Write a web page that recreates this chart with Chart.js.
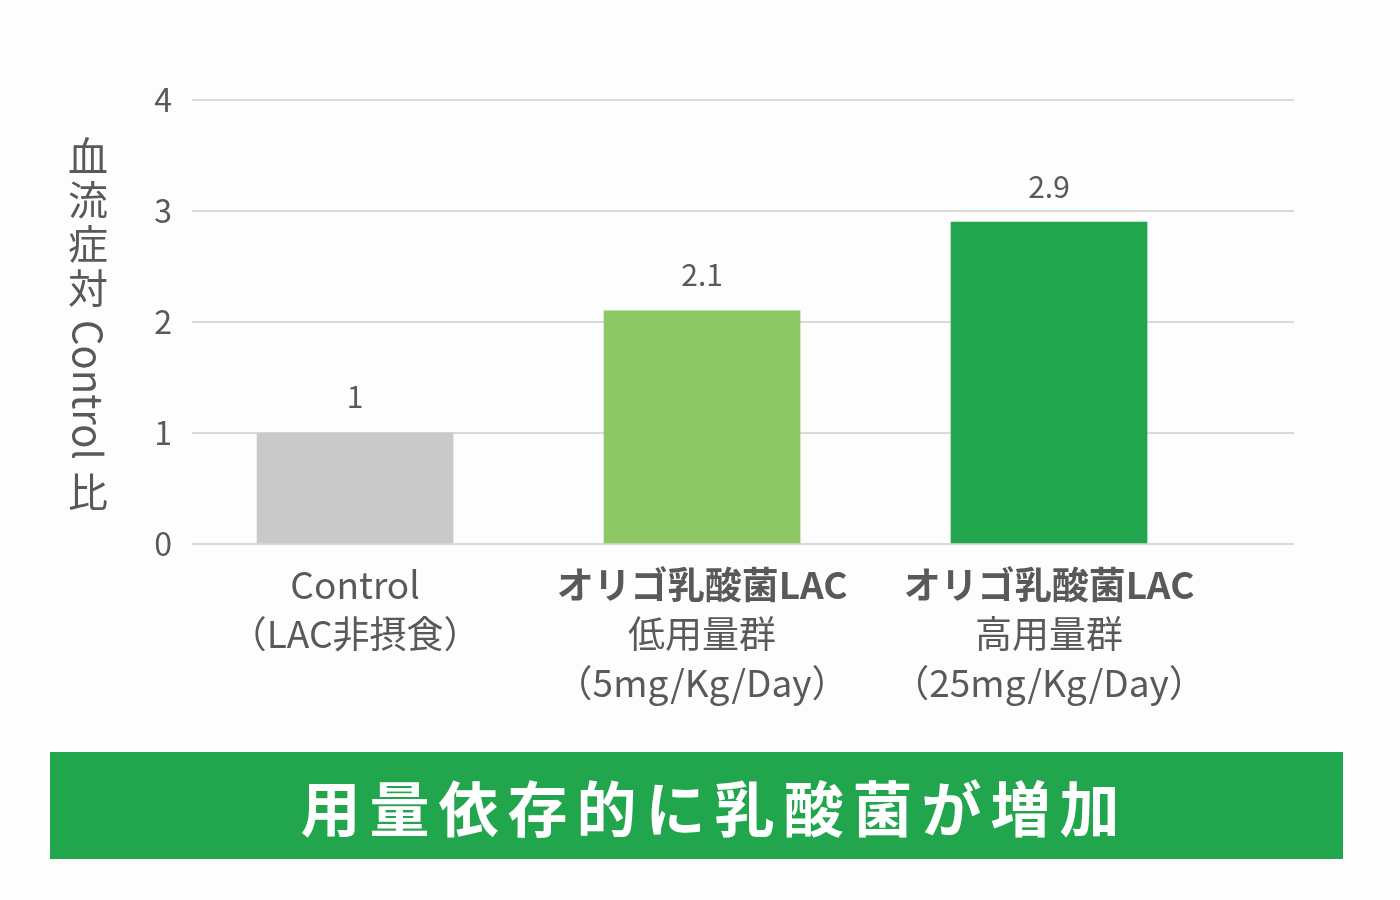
<!DOCTYPE html>
<html lang="ja">
<head>
  <meta charset="UTF-8">
  <title>血流症対 Control 比</title>
  <script src="https://cdn.jsdelivr.net/npm/chart.js"></script>
  <style>
    html, body {
      margin: 0;
      padding: 0;
      background: #fdfdfd;
      font-family: 'Noto Sans CJK JP', 'Noto Sans', sans-serif;
    }
    .wrap {
      position: relative;
      width: 1400px;
      height: 900px;
    }
    #chart {
      position: absolute;
      left: 0;
      top: 0;
    }
    .banner {
      position: absolute;
      left: 50px;
      top: 752px;
      width: 1257px;
      height: 107px;
      padding-left: 36px;
      background: #21a64d;
      color: #fff;
      font-weight: 700;
      font-size: 60px;
      letter-spacing: 9px;
      line-height: 107px;
      text-align: center;
    }
  </style>
</head>
<body>
  <div class="wrap">
    <canvas id="chart" width="1400" height="750"></canvas>
    <div class="banner">用量依存的に乳酸菌が増加</div>
  </div>
  <script>
    // data
    const categoryLabels = [
      ['Control', '（LAC非摂食）'],
      ['オリゴ乳酸菌LAC', '低用量群', '（5mg/Kg/Day）'],
      ['オリゴ乳酸菌LAC', '高用量群', '（25mg/Kg/Day）']
    ];
    const values = [1, 2.1, 2.9];
    const valueLabels = ['1', '2.1', '2.9'];
    const barColors = ['#c9c9c9', '#8cc866', '#21a64d'];
    const yTicks = [0, 1, 2, 3, 4];
    const yTitleUpright = ['血', '流', '症', '対'];
    const yTitleLatin = 'Control';
    const yTitleEnd = '比';

    const FONT = "'Noto Sans CJK JP', 'Noto Sans', sans-serif";
    const TEXT = '#595959';

    // value above each bar
    const valueLabelPlugin = {
      id: 'valueLabels',
      afterDatasetsDraw(chart) {
        const ctx = chart.ctx;
        const meta = chart.getDatasetMeta(0);
        ctx.save();
        ctx.font = '30px ' + FONT;
        ctx.fillStyle = TEXT;
        ctx.textAlign = 'center';
        ctx.textBaseline = 'middle';
        meta.data.forEach((bar, i) => {
          ctx.fillText(valueLabels[i], bar.x, bar.y - 36);
        });
        ctx.restore();
      }
    };

    // multi-line category labels, first line bold for the LAC groups
    const categoryPlugin = {
      id: 'categoryLabels',
      afterDraw(chart) {
        const ctx = chart.ctx;
        const x = chart.scales.x;
        const base = chart.chartArea.bottom;
        ctx.save();
        ctx.fillStyle = TEXT;
        ctx.textAlign = 'center';
        ctx.textBaseline = 'middle';
        categoryLabels.forEach((lines, i) => {
          const cx = x.getPixelForValue(i);
          lines.forEach((line, j) => {
            const bold = i > 0 && j === 0;
            ctx.font = (bold ? '700 ' : '400 ') + '37px ' + FONT;
            ctx.fillText(line, cx, base + 41 + j * 49);
          });
        });
        ctx.restore();
      }
    };

    // vertical axis title: kanji upright, latin rotated
    const yTitlePlugin = {
      id: 'yTitle',
      afterDraw(chart) {
        const ctx = chart.ctx;
        const area = chart.chartArea;
        const cx = 88;
        const step = 44;
        ctx.save();
        ctx.fillStyle = TEXT;
        ctx.font = '40px ' + FONT;
        const latinW = ctx.measureText(yTitleLatin).width;
        const gap = 10;
        const total = yTitleUpright.length * step + gap + latinW + gap + step;
        let y = (area.top + area.bottom) / 2 - total / 2 + 2;
        ctx.textAlign = 'center';
        ctx.textBaseline = 'middle';
        yTitleUpright.forEach(ch => {
          ctx.fillText(ch, cx, y + step / 2);
          y += step;
        });
        y += gap;
        ctx.save();
        ctx.translate(cx, y);
        ctx.rotate(Math.PI / 2);
        ctx.textAlign = 'left';
        ctx.fillText(yTitleLatin, 0, 0);
        ctx.restore();
        y += latinW + gap;
        ctx.fillText(yTitleEnd, cx, y + step / 2);
        ctx.restore();
      }
    };

    new Chart(document.getElementById('chart'), {
      type: 'bar',
      data: {
        datasets: [{
          data: values.map((v, i) => ({ x: i, y: v })),
          backgroundColor: barColors,
          borderWidth: 0,
          barThickness: 196
        }]
      },
      options: {
        responsive: false,
        animation: false,
        layout: { padding: { top: 100, right: 106, left: 0, bottom: 0 } },
        plugins: {
          legend: { display: false },
          tooltip: { enabled: false }
        },
        scales: {
          x: {
            type: 'linear',
            offset: false,
            min: -0.47,
            max: 2.706,
            grid: { display: false },
            border: { display: false },
            ticks: { display: false },
            afterFit(scale) { scale.height = 206; }
          },
          y: {
            min: 0,
            max: 4,
            afterBuildTicks(scale) { scale.ticks = yTicks.map(v => ({ value: v })); },
            grid: { color: '#d9d9d9', lineWidth: 2, drawTicks: false },
            border: { display: false },
            ticks: {
              padding: 20,
              color: TEXT,
              font: { size: 32, family: FONT }
            },
            afterFit(scale) { scale.width = 192; }
          }
        }
      },
      plugins: [valueLabelPlugin, categoryPlugin, yTitlePlugin]
    });
  </script>
</body>
</html>
